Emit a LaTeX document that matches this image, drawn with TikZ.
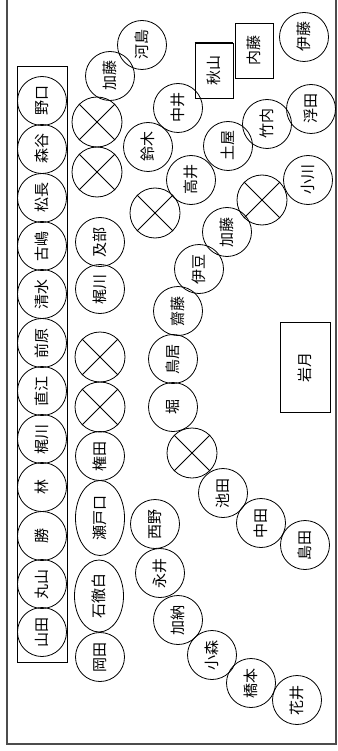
\documentclass[tikz,border=0pt]{standalone}
\usepackage{fontspec}
\setmainfont{Noto Sans CJK JP}
\usetikzlibrary{shapes.geometric}

\begin{document}
\begin{tikzpicture}[x=1pt, y=-1pt,
    seat/.style={circle, draw, line width=0.8pt, minimum size=49pt, inner sep=0pt, rotate=90, font=\fontsize{15}{17}\selectfont},
    longseat/.style={ellipse, draw, line width=0.8pt, minimum width=75pt, minimum height=49pt, inner sep=0pt, rotate=90, font=\fontsize{15}{17}\selectfont},
    vacant/.style={circle, draw, line width=0.8pt, minimum size=50pt, inner sep=0pt},
    desk/.style={rectangle, draw, line width=0.8pt, inner sep=0pt, rotate=90, font=\fontsize{15}{17}\selectfont}
]
    \useasboundingbox (0,0) rectangle (337,751);
    \draw[gray!60!black, line width=1.2pt] (7,-5) -- (7,744) -- (336,744) -- (336,-5);

    % front row
    \draw[line width=0.8pt] (17,66) rectangle (67,662);
    \node[seat] (r1) at (42,101) {野口};
    \node[seat] (r2) at (42,149) {森谷};
    \node[seat] (r3) at (42,198) {松長};
    \node[seat] (r4) at (42,246) {古嶋};
    \node[seat] (r5) at (42,294) {清水};
    \node[seat] (r6) at (42,343) {前原};
    \node[seat] (r7) at (42,391) {直江};
    \node[seat] (r8) at (42,439) {梶川};
    \node[seat] (r9) at (42,487) {林};
    \node[seat] (r10) at (42,536) {勝};
    \node[seat] (r11) at (42,584) {丸山};
    \node[seat] (r12) at (42,632) {山田};

    % second row
    \node[seat] (kato1) at (110,76) {加藤};
    \node[seat] (kawashima) at (142,45) {河島};
    \node[vacant] (e1) at (97,122) {};
    \node[vacant] (e2) at (97,172) {};
    \node[seat] (abe) at (100,242) {及部};
    \node[seat] (kajikawa2) at (100,289) {梶川};
    \node[vacant] (e4) at (100,357) {};
    \node[vacant] (e5) at (100,407) {};
    \node[seat] (gonda) at (100,456) {権田};
    \node[longseat] (setoguchi) at (100,518) {瀬戸口};
    \node[longseat, minimum width=72pt] (itoshiro) at (99,596) {石徹白};
    \node[seat] (okada) at (100,657) {岡田};

    % curved rows
    \node[seat] (suzuki) at (148,147) {鈴木};
    \node[seat] (nakai) at (178,108) {中井};
    \node[seat] (takai) at (191,180) {高井};
    \node[vacant] (e3) at (155,213) {};
    \node[seat] (tsuchiya) at (228,146) {土屋};
    \node[seat] (takeuchi) at (267,124) {竹内};
    \node[seat] (ukita) at (311,109) {浮田};
    \node[seat] (ito) at (304,37) {伊藤};
    \node[vacant] (e7) at (262,200) {};
    \node[seat] (ogawa) at (308,180) {小川};
    \node[seat] (kato2) at (227,232) {加藤};
    \node[seat] (izu) at (199,269) {伊豆};
    \node[seat] (saito) at (178,311) {齋藤};
    \node[seat] (torii) at (173,359) {鳥居};
    \node[seat] (hori) at (173,407) {堀};
    \node[vacant] (e6) at (192,453) {};
    \node[seat] (ikeda) at (223,493) {池田};
    \node[seat] (nakata) at (261,523) {中田};
    \node[seat] (shimada) at (305,545) {島田};
    \node[seat] (nishino) at (155,524) {西野};
    \node[seat] (nagai) at (160,573) {永井};
    \node[seat] (kano) at (178,620) {加納};
    \node[seat] (komori) at (212,655) {小森};
    \node[seat] (hashimoto) at (251,683) {橋本};
    \node[seat] (hanai) at (297,700) {花井};

    % desks
    \node[desk, minimum width=55pt, minimum height=38pt] (akiyama) at (214,70.5) {秋山};
    \draw[line width=1.8pt] (akiyama.north east) -- (akiyama.south east);
    \node[desk, minimum width=55pt, minimum height=38pt] (naito) at (254,50.5) {内藤};
    \node[desk, minimum width=90pt, minimum height=50pt] (iwatsuki) at (305,367) {岩月};

    \foreach \n in {1,...,7}
        \draw[line width=0.8pt] (e\n.north east) -- (e\n.south west) (e\n.north west) -- (e\n.south east);
\end{tikzpicture}
\end{document}
